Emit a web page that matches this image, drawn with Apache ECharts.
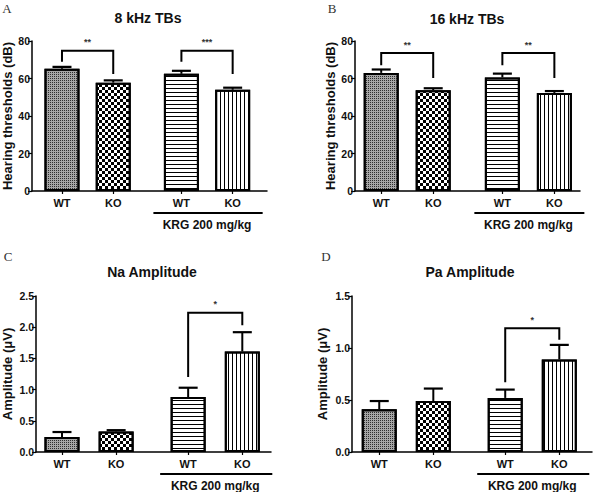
<!DOCTYPE html>
<html><head><meta charset="utf-8">
<script src="https://cdn.jsdelivr.net/npm/echarts@6/dist/echarts.min.js"></script>
<style>html,body{margin:0;padding:0;background:#fff}#c{width:593px;height:492px}</style>
</head><body><div id="c"></div>
<script>
// ---- data ----
const groups = ['WT', 'KO', 'WT', 'KO'];
const groupPos = [0, 1, 2.33, 3.33];
const titles = ['8 kHz TBs', '16 kHz TBs', 'Na Amplitude', 'Pa Amplitude'];
const letters = ['A', 'B', 'C', 'D'];
const yNames = ['Hearing thresholds (dB)', 'Hearing thresholds (dB)', 'Amplitude (\u03bcV)', 'Amplitude (\u03bcV)'];
const groupLabel = 'KRG 200 mg/kg';
const yMax = [80, 80, 2.5, 1.5];
const yStep = [20, 20, 0.5, 0.5];

const meanA = [65.2, 57.8, 62.5, 54.0];
const semA = [1.0, 1.2, 1.6, 1.1];
const meanB = [63.0, 53.8, 60.6, 52.3];
const semB = [1.8, 1.0, 2.0, 1.0];
const meanC = [0.24, 0.33, 0.88, 1.61];
const semC = [0.08, 0.02, 0.15, 0.31];
const meanD = [0.41, 0.49, 0.52, 0.89];
const semD = [0.08, 0.12, 0.08, 0.14];

// brackets: [fromIdx, toIdx, bracketY, leftLegEnd, rightLegEnd, stars]
const sigA = [[0, 1, 74.8, 68.9, 62.4, '**'], [2, 3, 74.8, 68.9, 62.4, '***']];
const sigB = [[0, 1, 73.6, 67.1, 60.3, '**'], [2, 3, 73.6, 67.1, 60.3, '**']];
const sigC = [[2, 3, 2.23, 1.20, 2.03, '*']];
const sigD = [[2, 3, 1.19, 0.67, 1.08, '*']];

const means = [meanA, meanB, meanC, meanD];
const sems = [semA, semB, semC, semD];
const sigs = [sigA, sigB, sigC, sigD];

// ---- layout ----
const grids = [
  {left: 32, top: 41, width: 235, height: 150},
  {left: 355, top: 41, width: 225, height: 150},
  {left: 36, top: 296, width: 235, height: 156},
  {left: 352, top: 296, width: 240, height: 156}
];
const xRange = [[-0.585, 4.0], [-0.504, 3.823], [-0.48, 3.86], [-0.504, 3.935]];
const nameGaps = [17, 18, 22, 23];
const FONT = '"Liberation Sans", Arial, sans-serif';

const fills = [
  {color: '#a6a6a6', decal: {symbol: 'rect', symbolSize: 1, color: '#2e2e2e', dashArrayX: [1, 1], dashArrayY: [1, 1]}},
  {color: '#ffffff', decal: {symbol: 'rect', symbolSize: 1, color: '#000', dashArrayX: [[3, 3], [0, 3, 3, 0]], dashArrayY: [3, 0]}},
  {color: '#ffffff', decal: {symbol: 'rect', symbolSize: 1, color: '#000', dashArrayX: [4, 0], dashArrayY: [1, 2.6]}},
  {color: '#ffffff', decal: {symbol: 'rect', symbolSize: 1, color: '#000', dashArrayX: [1, 3], dashArrayY: [4, 0]}}
];

const option = {
  animation: false,
  backgroundColor: '#fff',
  grid: grids.map(g => Object.assign({containLabel: false}, g)),
  xAxis: grids.map((g, i) => ({
    type: 'value', gridIndex: i, min: xRange[i][0], max: xRange[i][1],
    splitLine: {show: false},
    axisLine: {show: true, onZero: false, lineStyle: {color: '#000', width: 1.5}},
    axisTick: {show: true, customValues: groupPos, length: 3, lineStyle: {color: '#000', width: 1.2}},
    axisLabel: {
      customValues: groupPos, margin: 6, color: '#111',
      fontFamily: FONT, fontWeight: 'bold', fontSize: 11,
      formatter: v => { const k = groupPos.findIndex(p => Math.abs(p - v) < 1e-6); return k >= 0 ? groups[k] : ''; }
    }
  })),
  yAxis: grids.map((g, i) => ({
    type: 'value', gridIndex: i, min: 0, max: yMax[i], interval: yStep[i],
    splitLine: {show: false},
    axisLine: {show: true, onZero: false, lineStyle: {color: '#000', width: 1.5}},
    axisTick: {show: true, length: 4, lineStyle: {color: '#000', width: 1.2}},
    axisLabel: {margin: 2, color: '#111', fontFamily: FONT, fontWeight: 'bold', fontSize: 10.5,
      formatter: v => yStep[i] < 1 ? v.toFixed(1) : String(v)},
    name: yNames[i], nameLocation: 'middle', nameGap: nameGaps[i],
    nameTextStyle: {fontFamily: FONT, fontWeight: 'bold', fontSize: 13, color: '#111'}
  })),
  series: []
};

means.forEach((m, i) => {
  option.series.push({
    type: 'bar', xAxisIndex: i, yAxisIndex: i, barWidth: 35, z: 2,
    data: m.map((v, k) => ({
      value: [groupPos[k], v],
      itemStyle: {color: fills[k].color, decal: fills[k].decal, borderColor: '#000', borderWidth: 2}
    }))
  });
  option.series.push({
    type: 'custom', xAxisIndex: i, yAxisIndex: i, z: 3,
    data: m.map((v, k) => [groupPos[k], v, sems[i][k]]),
    renderItem: (params, api) => {
      const x = api.value(0), mv = api.value(1), e = api.value(2);
      const p0 = api.coord([x, mv]), p1 = api.coord([x, mv + e]);
      const hw = 9.5;
      return {type: 'group', children: [
        {type: 'line', shape: {x1: p0[0], y1: p0[1], x2: p1[0], y2: p1[1]}, style: {stroke: '#000', lineWidth: 2}},
        {type: 'line', shape: {x1: p1[0] - hw, y1: p1[1], x2: p1[0] + hw, y2: p1[1]}, style: {stroke: '#000', lineWidth: 2.2}}
      ]};
    }
  });
  option.series.push({
    type: 'custom', xAxisIndex: i, yAxisIndex: i, z: 4, clip: false,
    data: sigs[i].map(s => [groupPos[s[0]], groupPos[s[1]], s[2], s[3], s[4]]),
    renderItem: (params, api) => {
      const x1 = api.value(0), x2 = api.value(1), y = api.value(2), yl = api.value(3), yr = api.value(4);
      const a = api.coord([x1, y]), b = api.coord([x2, y]);
      const al = api.coord([x1, yl]), br = api.coord([x2, yr]);
      const stars = sigs[i][params.dataIndex][5];
      return {type: 'group', children: [
        {type: 'polyline', shape: {points: [al, a, b, br]}, style: {stroke: '#000', lineWidth: 2, fill: null}},
        {type: 'text', x: (a[0] + b[0]) / 2, y: a[1] - 4,
          style: {text: stars, fill: '#333', font: 'bold 9px ' + FONT, textAlign: 'center', textVerticalAlign: 'bottom'}}
      ]};
    }
  });
  option.series.push({
    type: 'custom', xAxisIndex: i, yAxisIndex: i, z: 4, clip: false,
    data: [[groupPos[2], groupPos[3]]],
    renderItem: (params, api) => {
      const a = api.coord([api.value(0), 0]), b = api.coord([api.value(1), 0]);
      const y = a[1] + 22;
      const xl = a[0] - 28, xr = b[0] + 30;
      return {type: 'group', children: [
        {type: 'line', shape: {x1: xl, y1: y, x2: xr, y2: y}, style: {stroke: '#000', lineWidth: 2}},
        {type: 'text', x: (a[0] + b[0]) / 2, y: y + 12,
          style: {text: groupLabel, fill: '#111', font: 'bold 12px ' + FONT, textAlign: 'center', textVerticalAlign: 'middle'}}
      ]};
    }
  });
});

const titlePos = [[148, 18], [467, 19], [152, 272], [470, 272]];
const letterPos = [[7, 8], [332, 8], [8, 256], [326, 256]];
option.graphic = [];
titles.forEach((t, i) => {
  option.graphic.push({type: 'text', x: titlePos[i][0], y: titlePos[i][1],
    style: {text: t, fill: '#111', font: 'bold 14px ' + FONT, textAlign: 'center', textVerticalAlign: 'middle'}});
  option.graphic.push({type: 'text', x: letterPos[i][0], y: letterPos[i][1],
    style: {text: letters[i], fill: '#333', font: '13px "Liberation Serif", "DejaVu Serif", serif', textAlign: 'center', textVerticalAlign: 'middle'}});
});

const chart = echarts.init(document.getElementById('c'), null, {renderer: 'svg'});
chart.setOption(option);
</script>
</body></html>
